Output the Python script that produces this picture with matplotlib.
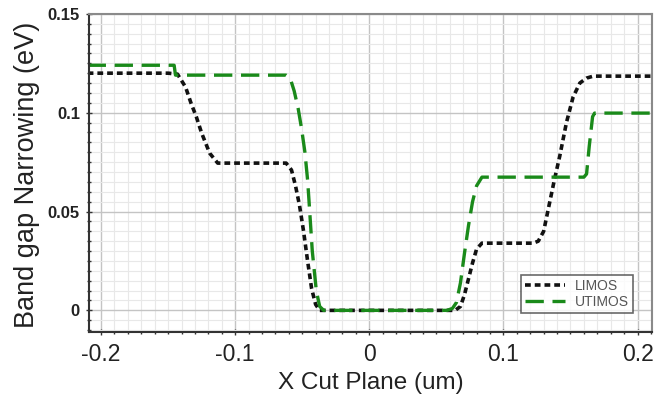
# band gap narrowing along x cut plane

import matplotlib.pyplot as plt
from matplotlib.ticker import MultipleLocator

# LIMOS curve
limos_x = [-0.21, -0.150, -0.143, -0.137, -0.133, -0.129, -0.125, -0.119, -0.113,
           -0.062, -0.058, -0.055, -0.052, -0.049, -0.046, -0.043, -0.040, -0.037,
           0.064, 0.068, 0.071, 0.074, 0.077, 0.080, 0.084,
           0.122, 0.126, 0.130, 0.134, 0.138, 0.142, 0.147, 0.152, 0.157, 0.162, 0.167, 0.211]
limos_y = [0.120, 0.120, 0.1195, 0.113, 0.105, 0.098, 0.0897, 0.0795, 0.0745,
           0.0745, 0.071, 0.063, 0.053, 0.040, 0.025, 0.011, 0.003, 0.0,
           0.0, 0.002, 0.008, 0.016, 0.024, 0.031, 0.034,
           0.034, 0.035, 0.040, 0.053, 0.066, 0.078, 0.095, 0.108, 0.115, 0.1175, 0.1185, 0.1185]

# UTIMOS curve
utimos_x = [-0.21, -0.1455, -0.1445, -0.062, -0.059, -0.056, -0.053, -0.0505, -0.048,
            -0.046, -0.045, -0.0425, -0.0395, -0.037, -0.034,
            0.058, 0.062, 0.065, 0.068, 0.071, 0.074, 0.077, 0.080, 0.084,
            0.160, 0.162, 0.164, 0.1665, 0.168, 0.211]
utimos_y = [0.124, 0.124, 0.119, 0.119, 0.1175, 0.111, 0.102, 0.092, 0.080,
            0.066, 0.056, 0.030, 0.010, 0.002, 0.0,
            0.0, 0.001, 0.004, 0.014, 0.029, 0.043, 0.055, 0.063, 0.0674,
            0.0674, 0.069, 0.083, 0.098, 0.0998, 0.0998]

xticks = [-0.2, -0.1, 0, 0.1, 0.2]
xtick_labels = ["-0.2", "-0.1", "0", "0.1", "0.2"]
yticks = [0, 0.05, 0.1, 0.15]
ytick_labels = ["0", "0.05", "0.1", "0.15"]

plt.rcParams['font.family'] = ['Liberation Sans', 'DejaVu Sans']

fig = plt.figure(figsize=(6.69, 4.08), dpi=100)
ax = fig.add_axes([0.133, 0.186, 0.842, 0.780])

ax.plot(limos_x, limos_y, color="#111111", linewidth=2.6, dashes=(1.6, 1.1), label="LIMOS")
ax.plot(utimos_x, utimos_y, color="#1a8a1a", linewidth=2.4, dashes=(5.5, 2.6), label="UTIMOS")

ax.set_xlim(-0.209, 0.211)
ax.set_ylim(-0.011, 0.15)

ax.set_xticks(xticks)
ax.set_xticklabels(xtick_labels, fontsize=16.5, color="#222222")
ax.set_yticks(yticks)
ax.set_yticklabels(ytick_labels, fontsize=12, fontweight="bold", color="#222222")
ax.xaxis.set_minor_locator(MultipleLocator(0.01))
ax.yaxis.set_minor_locator(MultipleLocator(0.005))

ax.grid(which="major", color="#c4c4c4", linewidth=1.0)
ax.grid(which="minor", color="#e8e8e8", linewidth=0.8)
ax.set_axisbelow(True)

ax.tick_params(which="major", direction="inout", length=5, width=1, color="#333333")
ax.tick_params(axis="x", which="major", pad=5)
ax.tick_params(axis="y", which="major", pad=4)
ax.tick_params(which="minor", direction="inout", length=3, width=1, color="#333333")

for side in ["left", "bottom"]:
    ax.spines[side].set_color("#333333")
    ax.spines[side].set_linewidth(1.5)
for side in ["top", "right"]:
    ax.spines[side].set_color("#8a8a8a")
    ax.spines[side].set_linewidth(1.5)

ax.set_xlabel("X Cut Plane (um)", fontsize=17.5, color="#222222")
ax.set_ylabel("Band gap Narrowing (eV)", fontsize=19.5, color="#222222")
ax.xaxis.set_label_coords(0.5, -0.161)
ax.xaxis.label.set_va("center")
ax.yaxis.set_label_coords(-0.110, 0.495)
ax.yaxis.label.set_va("center")

leg = ax.legend(loc="lower right", bbox_to_anchor=(0.966, 0.059), fontsize=10,
                frameon=True, fancybox=False, handlelength=2.9, borderpad=0.3,
                labelspacing=0.15, handletextpad=0.7, borderaxespad=0)
leg.get_frame().set_edgecolor("#444444")
leg.get_frame().set_linewidth(1.2)
for t in leg.get_texts():
    t.set_color("#555555")

fig.savefig("out.png", dpi=100)
